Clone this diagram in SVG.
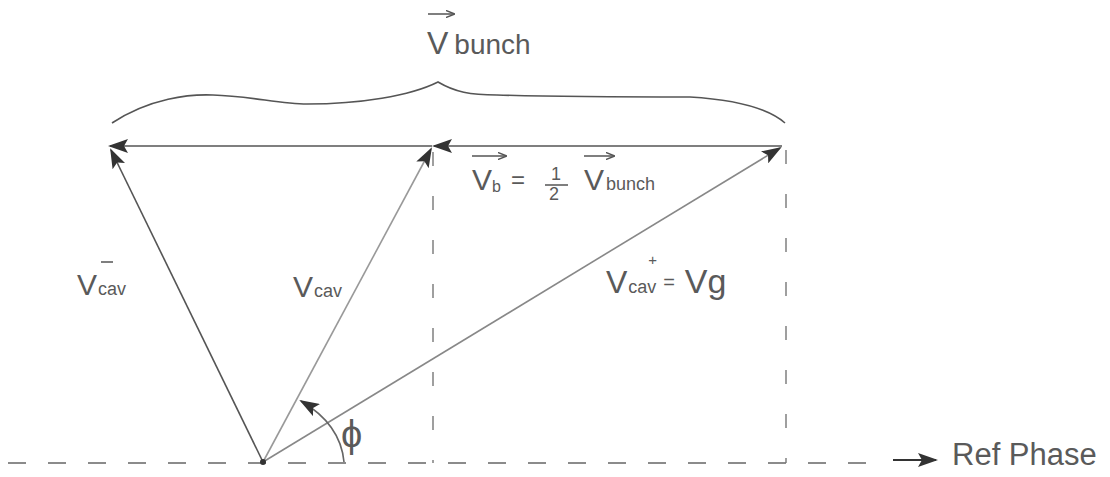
<svg xmlns="http://www.w3.org/2000/svg" width="1110" height="477" viewBox="0 0 1110 477">
<defs>
<style>
.t{font-family:"Liberation Sans",Arial,sans-serif;fill:#5a5a5a}
.dash{stroke:#666;stroke-width:1.6;fill:none;stroke-dasharray:18 22}
.vdash{stroke:#777;stroke-width:1.4;fill:none;stroke-dasharray:14 30}
.vec{fill:none;stroke-width:1.6}
</style>
<marker id="ah" viewBox="0 0 20 14" refX="18" refY="7" markerWidth="20" markerHeight="14" markerUnits="userSpaceOnUse" orient="auto">
<path d="M0,0 L20,7 L0,14 L4,7 Z" fill="#333"/>
</marker>
<marker id="sm" viewBox="0 0 10 8" refX="9" refY="4" markerWidth="9" markerHeight="8" markerUnits="userSpaceOnUse" orient="auto">
<path d="M0,0 L10,4 L0,8" fill="none" stroke="#555" stroke-width="1.5"/>
</marker>
</defs>
<rect width="1110" height="477" fill="#fff"/>
<g id="connectors">
<path class="dash" d="M8,463 H880"/>
<path d="M893,460 H936" stroke="#333" stroke-width="2.2" marker-end="url(#ah)"/>
<path class="vdash" d="M433,152 V463"/>
<path class="vdash" d="M786,150 V463"/>
<path class="vec" stroke="#555" d="M782,146 L434,146" marker-end="url(#ah)"/>
<path class="vec" stroke="#555" d="M432,146 L110,146" marker-end="url(#ah)"/>
<path class="vec" stroke="#555" d="M263,462 L111,150" marker-end="url(#ah)"/>
<path class="vec" stroke="#999" d="M263,462 L431,149" marker-end="url(#ah)"/>
<path class="vec" stroke="#888" d="M263,462 L780,148" marker-end="url(#ah)"/>
<path class="vec" stroke="#666" d="M344,462 C342,440 330,418 301,401" marker-end="url(#ah)"/>
<path d="M112,123 C150,98 190,94 213,95 C250,96 280,104 307,104 C360,104 410,96 438,82 C455,92 470,95 497,95 C560,97 640,97 690,97 C740,100 770,110 785,123" fill="none" stroke="#555" stroke-width="1.6"/>
<circle cx="263" cy="462" r="3" fill="#333"/>
</g>
<g id="label-vbunch">
<path d="M428,14 H454" stroke="#555" stroke-width="1.5" marker-end="url(#sm)"/>
<text class="t" x="427" y="54" font-size="32">V<tspan font-size="28" dx="6">bunch</tspan></text>
</g>
<g id="label-vb">
<path d="M472,156 H506" stroke="#555" stroke-width="1.5" marker-end="url(#sm)"/>
<text class="t" x="472" y="190" font-size="30">V<tspan font-size="16" dy="2">b</tspan><tspan font-size="24" dx="10" dy="-4">=</tspan></text>
<text class="t" x="551" y="180" font-size="18">1</text>
<path d="M545,185 H568" stroke="#555" stroke-width="1.5"/>
<text class="t" x="549" y="200" font-size="18">2</text>
<path d="M584,156 H614" stroke="#555" stroke-width="1.5" marker-end="url(#sm)"/>
<text class="t" x="584" y="190" font-size="30">V<tspan font-size="18" dx="2">bunch</tspan></text>
</g>
<g id="label-vcav-minus">
<text class="t" x="77" y="295" font-size="30">V<tspan font-size="18" dx="1">cav</tspan></text>
<path d="M101,262 H113" stroke="#555" stroke-width="1.5"/>
</g>
<g id="label-vcav">
<text class="t" x="293" y="297" font-size="30">V<tspan font-size="18" dx="1">cav</tspan></text>
</g>
<g id="label-vcav-plus">
<text class="t" x="606" y="293" font-size="32">V<tspan font-size="18" dx="1">cav</tspan><tspan font-size="15" dx="-8" dy="-28">+</tspan><tspan font-size="20" dx="6" dy="24">=</tspan><tspan font-size="34" dx="10" dy="4">Vg</tspan></text>
</g>
<g id="label-phi">
<text class="t" x="341" y="447" font-size="38">ϕ</text>
</g>
<g id="label-ref">
<text class="t" x="952" y="465" font-size="31">Ref Phase</text>
</g>
</svg>
